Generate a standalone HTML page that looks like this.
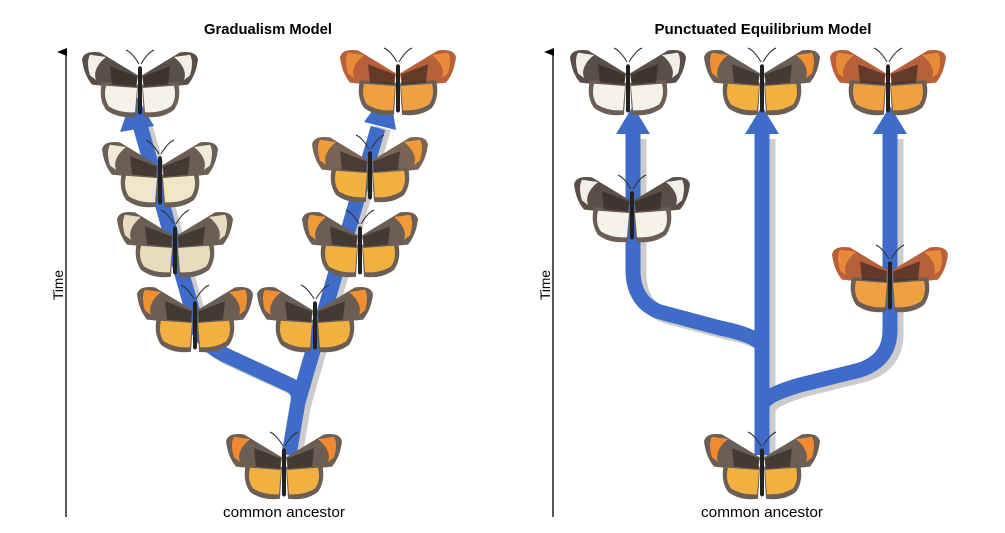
<!DOCTYPE html>
<html><head><meta charset="utf-8"><style>
html,body{margin:0;padding:0;background:#fff;width:1005px;height:533px;overflow:hidden}
svg{display:block}
text{font-family:"Liberation Sans",sans-serif}
</style></head><body>
<svg id="s" width="1005" height="533" viewBox="0 0 1005 533">
<defs>
<marker id="ah" markerWidth="8" markerHeight="10" refX="4" refY="9" orient="auto-start-reverse" markerUnits="userSpaceOnUse"><path d="M0,10 L4,0 L8,10 Z" fill="#000"/></marker>
</defs>
<g>
<text x="268" y="34" text-anchor="middle" font-size="15" font-weight="bold" textLength="128" lengthAdjust="spacingAndGlyphs">Gradualism Model</text>
<line x1="66" y1="517" x2="66" y2="52" stroke="#000" stroke-width="1.3" marker-end="url(#ah)"/>
<text transform="translate(63,285) rotate(-90)" text-anchor="middle" font-size="14" textLength="30" lengthAdjust="spacingAndGlyphs">Time</text>
<g>
<path d="M289,455 L298,402 Q300,390 290,385 L225,355 Q200,343 195,320 L140,125" fill="none" stroke="#ccc" stroke-width="16" transform="translate(5,3)"/>
<path d="M298,402 L378,125" fill="none" stroke="#ccc" stroke-width="16" transform="translate(5,3)"/>
<path d="M289,455 L298,402 Q300,390 290,385 L225,355 Q200,343 195,320 L140,125" fill="none" stroke="#3f6cc9" stroke-width="15"/>
<path d="M298,402 L378,128" fill="none" stroke="#3f6cc9" stroke-width="15"/>
<polygon points="120,132 134,92 154,126" fill="#3f6cc9"/>
<polygon points="364,122 389,88 396,130" fill="#3f6cc9"/>
</g>
<text x="284" y="517" text-anchor="middle" font-size="15" textLength="122" lengthAdjust="spacingAndGlyphs">common ancestor</text>
</g>
<g>
<text x="763" y="34" text-anchor="middle" font-size="15" font-weight="bold" textLength="217" lengthAdjust="spacingAndGlyphs">Punctuated Equilibrium Model</text>
<line x1="553" y1="517" x2="553" y2="52" stroke="#000" stroke-width="1.3" marker-end="url(#ah)"/>
<text transform="translate(550,285) rotate(-90)" text-anchor="middle" font-size="14" textLength="30" lengthAdjust="spacingAndGlyphs">Time</text>
<g>
<g transform="translate(6,4)" stroke="#ccc" fill="none" stroke-width="15">
<path d="M762,455 L762,135"/><path d="M762,345 Q755,335 720,328 L660,312 Q633,302 633,270 L633,135"/><path d="M762,405 Q765,395 800,385 L860,370 Q890,360 890,330 L890,135"/>
</g>
<g stroke="#3f6cc9" fill="none" stroke-width="15">
<path d="M762,455 L762,130"/><path d="M762,345 Q755,335 720,328 L660,312 Q633,302 633,270 L633,130"/><path d="M762,405 Q765,395 800,385 L860,370 Q890,360 890,330 L890,130"/>
</g>
<polygon points="616,134 633,106 650,134" fill="#3f6cc9"/>
<polygon points="745,134 762,106 779,134" fill="#3f6cc9"/>
<polygon points="873,134 890,106 907,134" fill="#3f6cc9"/>
</g>
<text x="762" y="517" text-anchor="middle" font-size="15" textLength="122" lengthAdjust="spacingAndGlyphs">common ancestor</text>
</g>
<g id="bf"></g>
</svg>
<script>
var NS="http://www.w3.org/2000/svg";
var g=document.getElementById('bf');
// [cx, cy, upperWing, trim, lowerWing, name]
var butterflies=[
[140,80,"#5a4f48","#f2efe8","#f5f2ea","gradual-top-left"],
[398,78,"#b8603a","#e88a3a","#f0a040","gradual-top-right"],
[160,170,"#6b5e54","#f0ead8","#efe6c8","gradual-mid-left-1"],
[370,165,"#7a6455","#f09a3a","#f2b040","gradual-mid-right-1"],
[175,240,"#6b5e54","#e8dcc0","#e8dcbc","gradual-mid-left-2"],
[360,240,"#6b5e54","#f09a3a","#f2b040","gradual-mid-right-2"],
[195,315,"#6b5e54","#f09030","#f2b040","gradual-low-left"],
[315,315,"#6b5e54","#f09030","#f2b040","gradual-low-right"],
[284,462,"#6b5e54","#f08a30","#f2b040","gradual-ancestor"],
[628,78,"#5a4f48","#f2efe8","#f5f2ea","punct-top-left"],
[762,78,"#6b5e54","#f09030","#f2b040","punct-top-mid"],
[888,78,"#b8603a","#e88a3a","#f0a040","punct-top-right"],
[632,205,"#5a4f48","#f2efe8","#f5f2ea","punct-mid-left"],
[890,275,"#b8603a","#e88a3a","#f0a040","punct-mid-right"],
[762,462,"#6b5e54","#f08a30","#f2b040","punct-ancestor"]
];
function mk(t,a,p){var e=document.createElementNS(NS,t);for(var k in a)e.setAttribute(k,a[k]);p.appendChild(e);return e;}
butterflies.forEach(function(b){
 var grp=mk('g',{transform:'translate('+b[0]+','+b[1]+') scale(1,1.15)'},g);
 
 
 [1,-1].forEach(function(s){
  var w=mk('g',{transform:'scale('+s+',1)'},grp);
  mk('path',{d:'M2,-4 L40,-24 Q56,-26 58,-18 Q56,-4 48,4 L4,8 Z',fill:b[2]},w);
  mk('path',{d:'M34,-20 L50,-22 Q54,-16 50,-4 L44,0 Q48,-10 34,-20 Z',fill:b[3]},w);
  mk('path',{d:'M2,4 L38,2 Q42,16 34,26 Q22,34 4,32 Z',fill:'#6b5e54'},w);
  mk('path',{d:'M3,7 L34,5 Q37,16 31,23 Q20,29 5,28 Z',fill:b[4]},w);
  mk('path',{d:'M3,-3 L30,-12 L28,4 L4,6 Z',fill:'#2a2220',opacity:'0.6'},w);
  mk('path',{d:'M1,-14 Q8,-24 14,-26',stroke:'#333',fill:'none','stroke-width':'1'},w);
 });
 mk('rect',{x:-2,y:-12,width:4,height:42,rx:2,fill:'#222'},grp);
});
</script>
</body></html>
